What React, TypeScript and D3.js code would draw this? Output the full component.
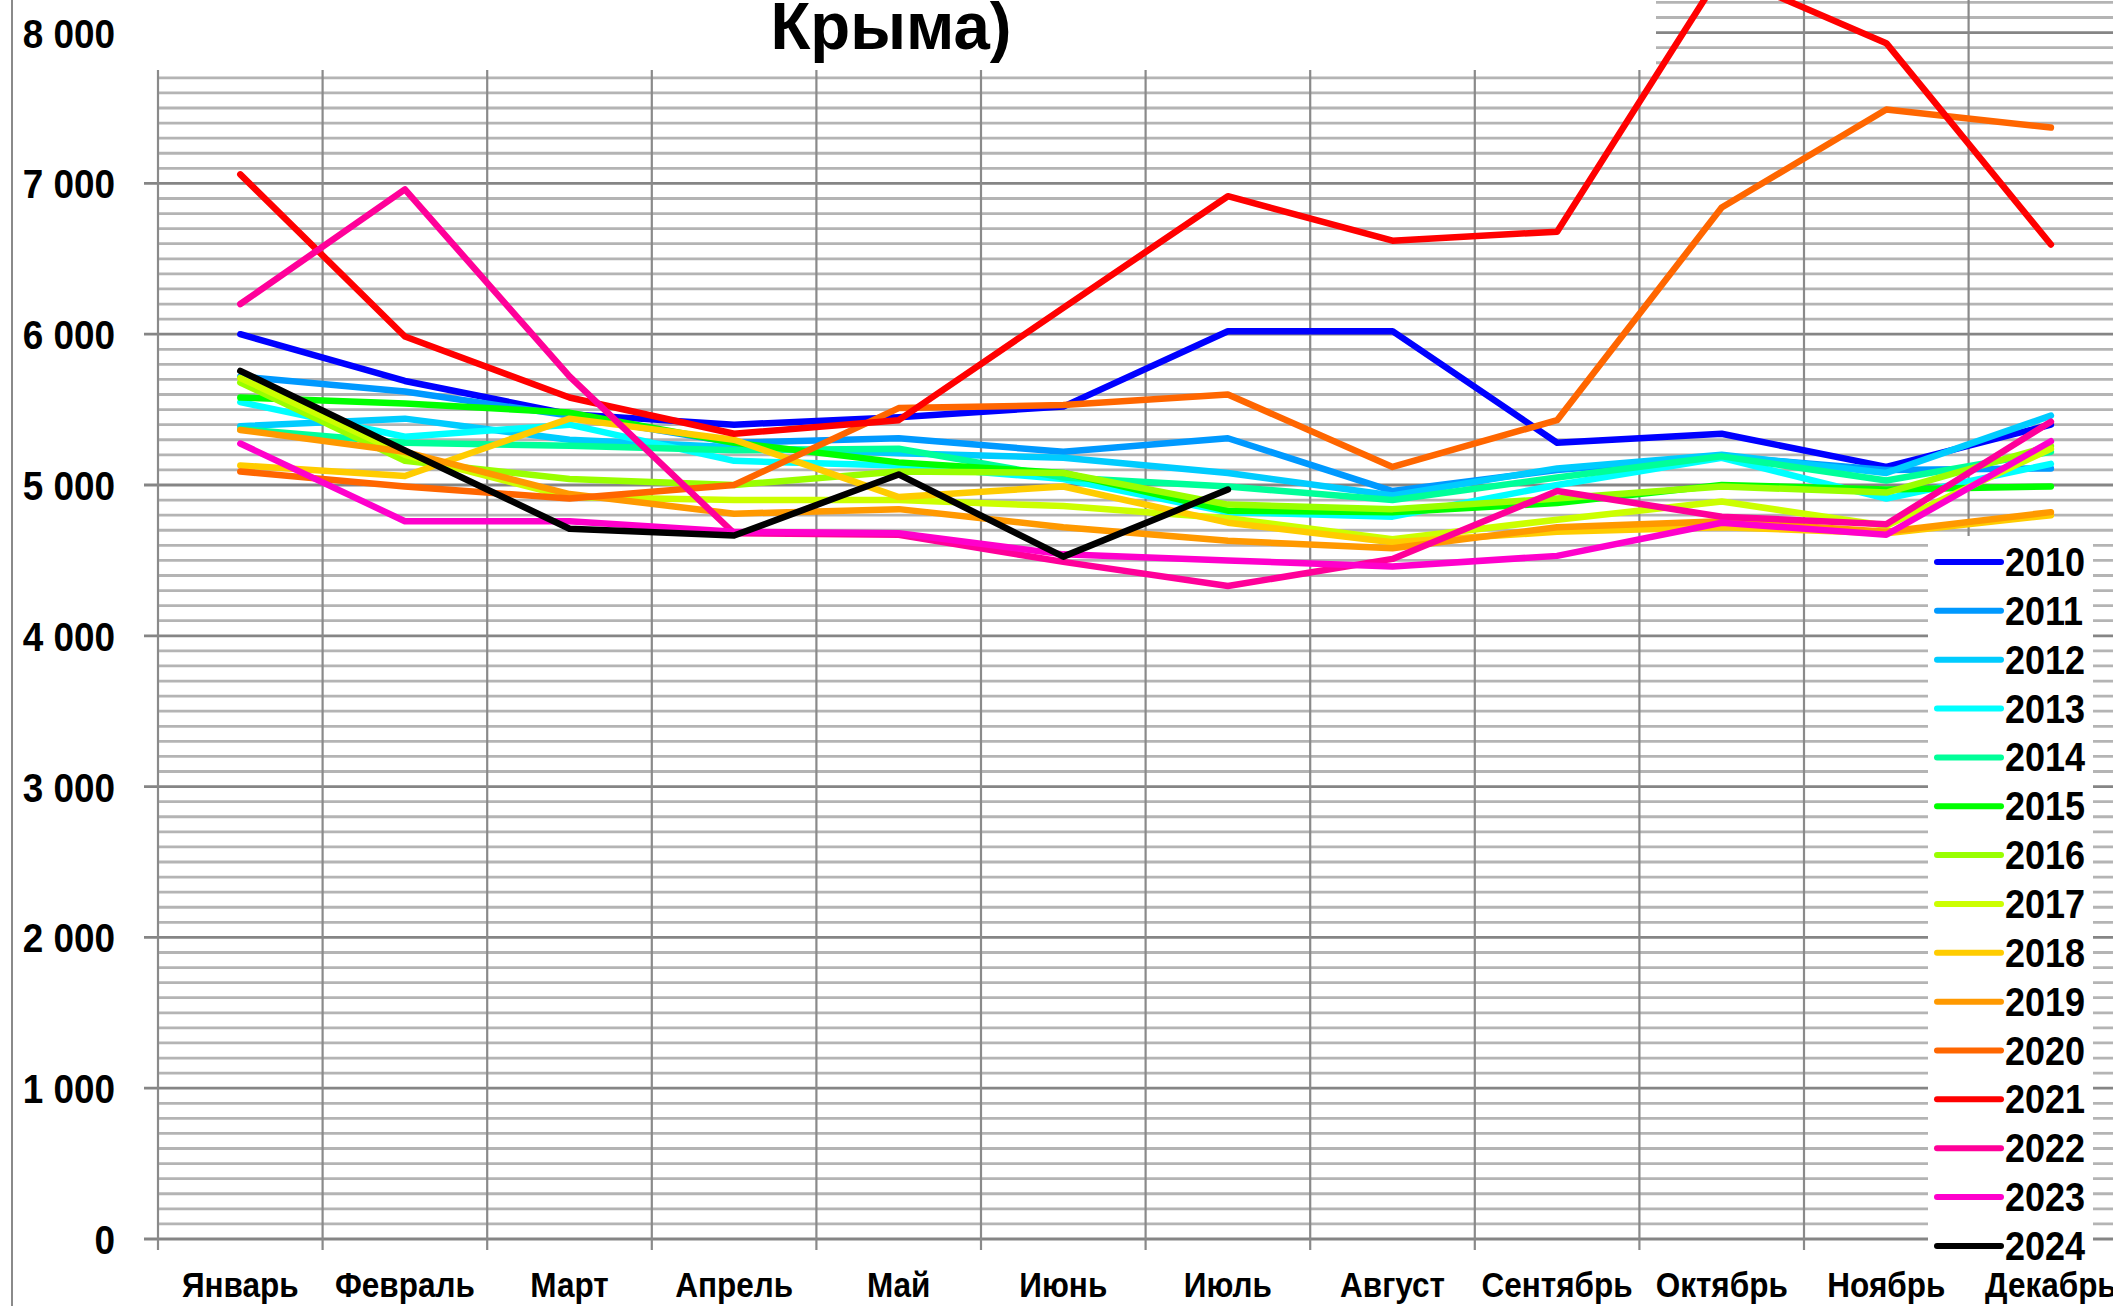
import React from 'react';
import * as d3 from 'd3';

const months = ['Январь', 'Февраль', 'Март', 'Апрель', 'Май', 'Июнь', 'Июль', 'Август', 'Сентябрь', 'Октябрь', 'Ноябрь', 'Декабрь'];
const yTicks = [0, 1000, 2000, 3000, 4000, 5000, 6000, 7000, 8000];
const yTickLabels = ['0', '1 000', '2 000', '3 000', '4 000', '5 000', '6 000', '7 000', '8 000'];
const titleText = 'Крыма)';

const y2010 = [6000, 5690, 5470, 5400, 5450, 5520, 6020, 6020, 5280, 5340, 5120, 5400];
const y2011 = [5720, 5620, 5460, 5280, 5310, 5220, 5310, 4960, 5100, 5190, 5100, 5110];
const y2012 = [5390, 5440, 5300, 5250, 5210, 5180, 5080, 4930, 5110, 5200, 5080, 5460];
const y2013 = [5550, 5320, 5400, 5160, 5130, 5040, 4820, 4790, 5000, 5180, 4910, 5140];
const y2014 = [5370, 5280, 5260, 5230, 5240, 5050, 4990, 4900, 5050, 5190, 5030, 5220];
const y2015 = [5580, 5540, 5480, 5280, 5150, 5080, 4830, 4820, 4880, 5000, 4970, 4990];
const y2016 = [5680, 5160, 5040, 5000, 5090, 5080, 4870, 4840, 4910, 4990, 4950, 5260];
const y2017 = [5710, 5200, 4920, 4900, 4900, 4860, 4780, 4640, 4770, 4890, 4730, 5240];
const y2018 = [5130, 5060, 5440, 5300, 4920, 4990, 4750, 4620, 4690, 4720, 4680, 4800];
const y2019 = [5365, 5220, 4940, 4810, 4840, 4720, 4630, 4580, 4720, 4760, 4690, 4820];
const y2020 = [5090, 4990, 4910, 5000, 5510, 5530, 5600, 5120, 5430, 6840, 7490, 7370];
const y2021 = [7060, 5985, 5580, 5340, 5430, 6175, 6915, 6620, 6680, 8400, 7930, 6595];
const y2022 = [6200, 6960, 5720, 4680, 4670, 4490, 4330, 4510, 4960, 4790, 4740, 5420];
const y2023 = [5275, 4760, 4760, 4690, 4680, 4540, 4500, 4460, 4530, 4750, 4670, 5290];
const y2024 = [5757, 5230, 4710, 4665, 5070, 4525, 4970];

const years = ['2010', '2011', '2012', '2013', '2014', '2015', '2016', '2017', '2018', '2019', '2020', '2021', '2022', '2023', '2024'];
const seriesValues = [y2010, y2011, y2012, y2013, y2014, y2015, y2016, y2017, y2018, y2019, y2020, y2021, y2022, y2023, y2024];
const seriesColors = ['#0000FF', '#0099FF', '#00CCFF', '#00FFFF', '#00FF99', '#00FF00', '#99FF00', '#CCFF00', '#FFCC00', '#FF9900', '#FF6600', '#FF0000', '#FF0099', '#FF00CC', '#000000'];

const W = 2113;
const H = 1306;
const FONT = "Arial, 'Liberation Sans', 'DejaVu Sans', sans-serif";
const SX = 0.9;

export default function App() {
  const plotLeft = 158;
  const band = 164.6;
  const x = d3.scaleBand<string>().domain(months).range([plotLeft, plotLeft + band * months.length]).padding(0);
  const y = d3.scaleLinear().domain([0, 8000]).range([1239, 32.6]);
  const cx = (i: number) => (x(months[i]) as number) + x.bandwidth() / 2;

  const minor = d3.range(100, 9100, 100).filter((v) => v % 1000 !== 0);
  const major = d3.range(0, 10000, 1000);
  const plotRight = plotLeft + band * months.length;

  const line = d3
    .line<number>()
    .x((_, i) => cx(i))
    .y((d) => y(d));

  const vLines = d3.range(0, months.length + 1).map((k) => plotLeft + k * band);

  const legendTop = 562;
  const legendStep = 48.85;

  return (
    <svg width={W} height={H} style={{ position: 'absolute', left: 0, top: 0, background: '#fff' }} fontFamily={FONT}>
      <rect x={0} y={0} width={W} height={H} fill="#fff" />
      {/* left chart border */}
      <line x1={12} x2={12} y1={0} y2={H} stroke="#8a8a8a" strokeWidth={2} />
      {/* minor gridlines */}
      {minor.map((v) => (
        <line key={'mn' + v} x1={plotLeft} x2={plotRight} y1={y(v)} y2={y(v)} stroke="#b4b4b4" strokeWidth={2.8} />
      ))}
      {/* major gridlines with tick marks */}
      {major.map((v) => (
        <line key={'mj' + v} x1={144} x2={plotRight} y1={y(v)} y2={y(v)} stroke="#858585" strokeWidth={2.8} />
      ))}
      {/* vertical gridlines */}
      {vLines.map((vx, k) => (
        <line key={'v' + k} x1={vx} x2={vx} y1={0} y2={1250} stroke="#8a8a8a" strokeWidth={2.2} />
      ))}
      {/* title box */}
      <rect x={130} y={0} width={1656 - 130} height={70} fill="#fff" />
      <text
        transform={`translate(891,49) scale(0.99,1)`}
        textAnchor="middle"
        fontSize={66}
        fontWeight="bold"
        fill="#000"
      >
        {titleText}
      </text>
      {/* series */}
      {seriesValues.map((vals, si) => (
        <path
          key={'s' + si}
          d={line(vals) || ''}
          fill="none"
          stroke={seriesColors[si]}
          strokeWidth={6.5}
          strokeLinejoin="round"
          strokeLinecap="round"
        />
      ))}
      {/* y tick labels */}
      {yTicks.map((v, i) => (
        <text
          key={'yt' + v}
          transform={`translate(115,${y(v) + 15}) scale(${SX},1)`}
          textAnchor="end"
          fontSize={41}
          fontWeight="bold"
          fill="#000"
        >
          {yTickLabels[i]}
        </text>
      ))}
      {/* month labels */}
      {months.map((m, i) => (
        <text
          key={'m' + i}
          transform={`translate(${cx(i)},1297) scale(${SX},1)`}
          textAnchor="middle"
          fontSize={35}
          fontWeight="bold"
          fill="#000"
        >
          {m}
        </text>
      ))}
      {/* legend */}
      <rect x={1928} y={536} width={2093 - 1928} height={1266 - 536} fill="#fff" />
      {years.map((yr, i) => {
        const ly = legendTop + i * legendStep;
        return (
          <g key={'lg' + yr}>
            <line x1={1937} x2={2001} y1={ly} y2={ly} stroke={seriesColors[i]} strokeWidth={6} strokeLinecap="round" />
            <text
              transform={`translate(2005,${ly + 14}) scale(${SX},1)`}
              fontSize={40}
              fontWeight="bold"
              fill="#000"
            >
              {yr}
            </text>
          </g>
        );
      })}
    </svg>
  );
}
